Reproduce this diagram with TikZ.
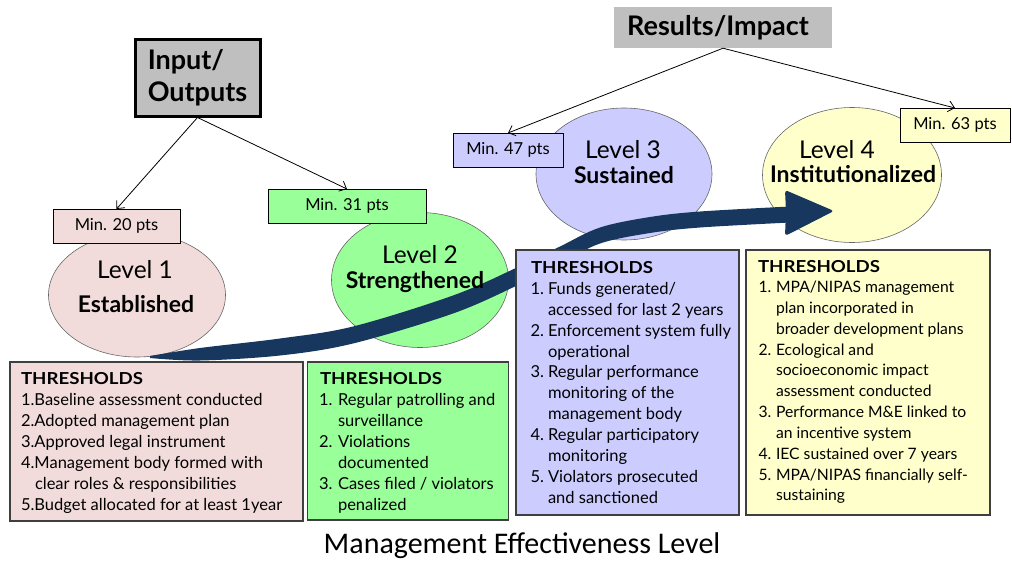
\documentclass[tikz,border=0pt]{standalone}
\usepackage{fontspec}
\setmainfont{Lato}
\newfontfamily\capfont{Carlito}
\usetikzlibrary{shapes.geometric,arrows.meta}

\definecolor{lpink}{HTML}{F2DCDB}
\definecolor{lgreen}{HTML}{99FF99}
\definecolor{llav}{HTML}{CCCCFF}
\definecolor{lyel}{HTML}{FFFFCC}
\definecolor{lgray}{HTML}{BFBFBF}
\definecolor{navy}{HTML}{17375E}
\definecolor{edgec}{HTML}{3F3F3F}

\newcounter{lnc}
\newcommand\thrl[3]{\stepcounter{lnc}\node[thr,anchor=base west] (t\arabic{lnc}) at (#1,#2) {#3};}
\newcommand\thrh[2]{\stepcounter{lnc}\node[thr,font=\fontsize{16.5}{21}\selectfont\bfseries,anchor=base west] (t\arabic{lnc}) at (#1,#2) {\scalebox{1.13}[1]{THRESHOLDS}};}

\begin{document}
\begin{tikzpicture}[x=1pt,y=-1pt,
  thr/.style={inner sep=0pt,outer sep=0pt,font=\fontsize{16.5}{21}\selectfont},
  tbox/.style={draw=edgec,line width=1.2pt,inner sep=0pt,outer sep=0pt},
  minbox/.style={draw=black,line width=0.8pt,inner sep=0pt,outer sep=0pt,minimum height=34pt,font=\fontsize{16.5}{20}\selectfont},
  lev/.style={ellipse,draw=black!60,line width=0.6pt,inner sep=0pt,outer sep=0pt},
  levt/.style={inner sep=0pt,anchor=base,font=\fontsize{24.5}{28}\selectfont},
  levb/.style={inner sep=0pt,anchor=base,font=\fontsize{23}{27}\selectfont\bfseries},
  conn/.style={draw=black,line width=0.8pt,-{Straight Barb[length=6pt,width=11pt]}}
]
\path[use as bounding box] (0,0) rectangle (1012,565);

% header boxes
\node[draw=black,line width=3pt,fill=lgray,minimum width=125pt,minimum height=77pt,inner sep=0pt,align=left,
  font=\fontsize{27}{32}\selectfont\bfseries] (io) at (197.5,77.5) {Input/\\Outputs};
\node[fill=lgray,minimum width=218pt,minimum height=41pt,inner sep=0pt,
  font=\fontsize{27}{30}\selectfont\bfseries] (ri) at (723,27.5) {Results/Impact\hspace*{10pt}};

% ellipses
\node[lev,fill=lpink,minimum width=177pt,minimum height=124pt] (e1) at (137,295) {};
\node[lev,fill=lgreen,minimum width=177pt,minimum height=135pt] (e2) at (420,280) {};
\node[lev,fill=llav,minimum width=176pt,minimum height=132pt] (e3) at (624,174) {};
\node[lev,fill=lyel,minimum width=179pt,minimum height=135pt] (e4) at (852,175) {};

% min boxes
\node[minbox,fill=lpink,minimum width=127pt] (m20) at (116.5,226) {Min. 20 pts};
\node[minbox,fill=lgreen,minimum width=158pt] (m31) at (347,206) {Min. 31 pts};
\node[minbox,fill=llav,minimum width=110pt] (m47) at (508,150) {Min. 47 pts};
\node[minbox,fill=lyel,minimum width=110pt] (m63) at (955,125) {Min. 63 pts};

% connectors
\draw[conn] (io.south) -- (m20.north);
\draw[conn] (io.south) -- (m31.north);
\draw[conn] (ri.south) -- (m47.north);
\draw[conn] (ri.south) -- (m63.north);

% big curved arrow
\fill[navy] plot[smooth,tension=0.55] coordinates {(150,356) (200,348) (280,338.5) (353,326.5) (453,295.5) (517,267.5) (560,246.5) (600,227.5) (650,217) (700,211.5) (790,206.5)}
  -- plot[smooth,tension=0.55] coordinates {(790,222.5) (700,227.5) (650,233) (600,243.5) (560,263.5) (517,285.5) (453,313.5) (353,343.5) (280,355.5) (200,360.5) (150,358)} -- cycle;
\fill[navy,rounded corners=3pt] (786,211) -- (785,190) -- (834,211) -- (785,236) -- cycle;

% level texts
\node[levt] (l1a) at (135,278) {Level 1};
\node[levb] (l1b) at (136,312) {Established};
\node[levt] (l2a) at (420,263) {Level 2};
\node[levb] (l2b) at (415,288) {Strengthened};
\node[levt] (l3a) at (623,158) {Level 3};
\node[levb] (l3b) at (624,183) {Sustained};
\node[levt] (l4a) at (837,158) {Level 4};
\node[levb] (l4b) at (853,182) {Institutionalized};

% threshold boxes
\node[tbox,fill=lpink,minimum width=293pt,minimum height=159pt] (b1) at (156.5,441.5) {};
\node[tbox,fill=lgreen,minimum width=201pt,minimum height=158pt] (b2) at (408,441) {};
\node[tbox,fill=llav,minimum width=223pt,minimum height=265pt] (b3) at (627.5,382.5) {};
\node[tbox,fill=lyel,minimum width=244pt,minimum height=265pt] (b4) at (868,382.5) {};

% box 1
\thrh{21}{384}
\thrl{21}{405}{1.Baseline assessment conducted}
\thrl{21}{426}{2.Adopted management plan}
\thrl{21}{447}{3.Approved legal instrument}
\thrl{21}{468}{4.Management body formed with}
\thrl{35}{489}{clear roles \& responsibilities}
\thrl{21}{510}{5.Budget allocated for at least 1year}

% box 2
\thrh{320}{384}
\thrl{319}{405}{1.}\thrl{338}{405}{Regular patrolling and}
\thrl{338}{426}{surveillance}
\thrl{319}{447}{2.}\thrl{338}{447}{Violations}
\thrl{338}{468}{documented}
\thrl{319}{489}{3.}\thrl{338}{489}{Cases filed / violators}
\thrl{338}{510}{penalized}

% box 3
\thrh{531}{273.5}
\thrl{530.5}{294.5}{1.}\thrl{548}{294.5}{Funds generated/}
\thrl{548}{315.4}{accessed for last 2 years}
\thrl{530.5}{336.2}{2.}\thrl{548}{336.2}{Enforcement system fully}
\thrl{548}{357.1}{operational}
\thrl{530.5}{377.9}{3.}\thrl{548}{377.9}{Regular performance}
\thrl{548}{398.8}{monitoring of the}
\thrl{548}{419.6}{management body}
\thrl{530.5}{440.5}{4.}\thrl{548}{440.5}{Regular participatory}
\thrl{548}{461.3}{monitoring}
\thrl{530.5}{482.2}{5.}\thrl{548}{482.2}{Violators prosecuted}
\thrl{548}{503}{and sanctioned}

% box 4
\begin{scope}[thr/.append style={font=\fontsize{15.7}{21}\selectfont}]
\thrh{758}{272}
\thrl{758.5}{292.5}{1.}\thrl{776}{292.5}{MPA/NIPAS management}
\thrl{776}{313.3}{plan incorporated in}
\thrl{776}{334.1}{broader development plans}
\thrl{758.5}{355}{2.}\thrl{776}{355}{Ecological and}
\thrl{776}{375.8}{socioeconomic impact}
\thrl{776}{396.6}{assessment conducted}
\thrl{758.5}{417.4}{3.}\thrl{776}{417.4}{Performance M\&E linked to}
\thrl{776}{438.3}{an incentive system}
\thrl{758.5}{459.1}{4.}\thrl{776}{459.1}{IEC sustained over 7 years}
\thrl{758.5}{480}{5.}\thrl{776}{480}{MPA/NIPAS financially self-}
\thrl{776}{500.8}{sustaining}
\end{scope}

% caption
\node[inner sep=0pt,anchor=base,font=\capfont\fontsize{30}{34}\selectfont] (cap) at (522,553) {Management Effectiveness Level};
\end{tikzpicture}
\end{document}
